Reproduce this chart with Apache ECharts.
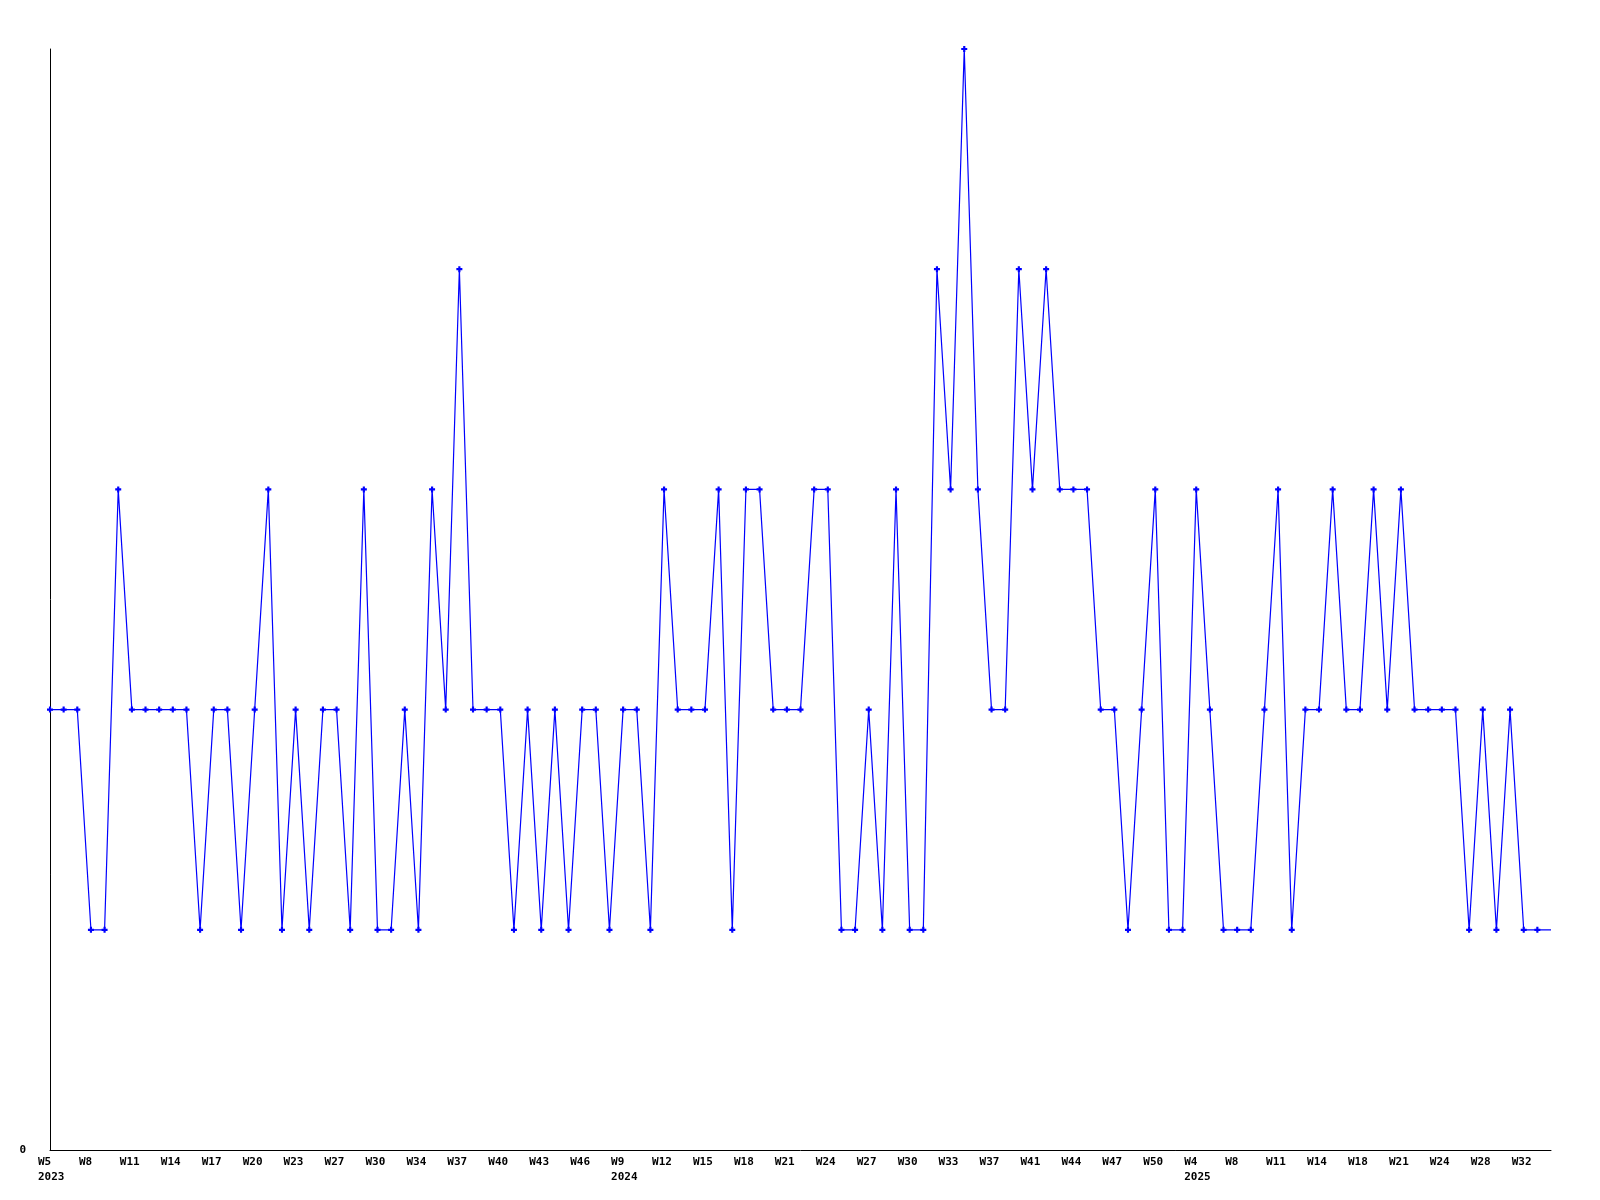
<!DOCTYPE html>
<html>
<head>
<meta charset="utf-8">
<style>
html,body{margin:0;padding:0;background:#fff;}
#chart{width:1600px;height:1200px;}
</style>
<script src="https://cdn.jsdelivr.net/npm/echarts@6/dist/echarts.min.js"></script>
</head>
<body>
<div id="chart"></div>
<script>
// Week categories (one per data point); first-of-year weeks carry the year on a second line
const weeks = [
  'W5\n2023','W6','W7','W8','W9','W10','W11','W12','W13','W14','W15','W16',
  'W17','W18','W19','W20','W21','W22','W23','W24','W26','W27','W28','W29',
  'W30','W31','W33','W34','W35','W36','W37','W38','W39','W40','W41','W42',
  'W43','W44','W45','W46','W48','W51',
  'W9\n2024','W10','W11','W12','W13','W14','W15','W16','W17','W18','W19','W20',
  'W21','W22','W23','W24','W25','W26','W27','W28','W29','W30','W31','W32',
  'W33','W34','W36','W37','W38','W40','W41','W42','W43','W44','W45','W46',
  'W47','W48','W49','W50','W51','W52',
  'W4\n2025','W5','W6','W8','W9','W10','W11','W12','W13','W14','W15','W17',
  'W18','W19','W20','W21','W22','W23','W24','W25','W27','W28','W29','W31',
  'W32','W33','W34'
];

// Weekly counts (last entry = current, unmarked week)
const counts = [
  2,2,2,1,1,3,2,2,2,2,2,1,2,2,1,2,3,1,2,1,2,2,1,
  3,1,1,2,1,3,2,4,2,2,2,1,2,1,2,1,2,2,1,2,2,1,
  3,2,2,2,3,1,3,3,2,2,2,3,3,1,1,2,1,3,1,1,4,3,
  5,3,2,2,4,3,4,3,3,3,2,2,1,2,3,1,1,3,2,1,1,1,
  2,3,1,2,2,3,2,2,3,2,3,2,2,2,2,1,2,1,2,1,1,
  1
];

const yMin = 0, yMax = 5;

const seriesData = counts.map((v, i) =>
  i === counts.length - 1 ? { value: v, symbol: 'none' } : v);

const chart = echarts.init(document.getElementById('chart'), null, { renderer: 'canvas' });
chart.setOption({
  animation: false,
  backgroundColor: '#ffffff',
  grid: { left: 50, right: 49, top: 49, bottom: 50, containLabel: false },
  xAxis: {
    type: 'category',
    data: weeks,
    boundaryGap: false,
    axisLine: { show: true, lineStyle: { color: '#000', width: 1 } },
    axisTick: { show: false },
    splitLine: { show: false },
    axisLabel: {
      interval: 2,
      align: 'left',
      padding: [0, 0, 0, -12],
      margin: 5,
      color: '#000',
      fontFamily: 'DejaVu Sans Mono',
      fontWeight: 'bold',
      fontSize: 11,
      lineHeight: 15
    }
  },
  yAxis: {
    type: 'value',
    min: yMin,
    max: yMax,
    interval: 5,
    axisLine: { show: true, lineStyle: { color: '#000', width: 1 } },
    axisTick: { show: false },
    splitLine: { show: false },
    axisLabel: {
      margin: 24,
      color: '#000',
      fontFamily: 'DejaVu Sans Mono',
      fontWeight: 'bold',
      fontSize: 11,
      formatter: v => (v === 0 ? '0' : '')
    }
  },
  series: [{
    type: 'line',
    data: seriesData,
    symbol: 'path://M1.6,0 L3.4,0 L3.4,1.6 L5,1.6 L5,3.4 L3.4,3.4 L3.4,5 L1.6,5 L1.6,3.4 L0,3.4 L0,1.6 L1.6,1.6 Z',
    symbolSize: 6,
    showAllSymbol: true,
    lineStyle: { color: '#0000ff', width: 1.2 },
    itemStyle: { color: '#0000ff' }
  }]
});
</script>
</body>
</html>
